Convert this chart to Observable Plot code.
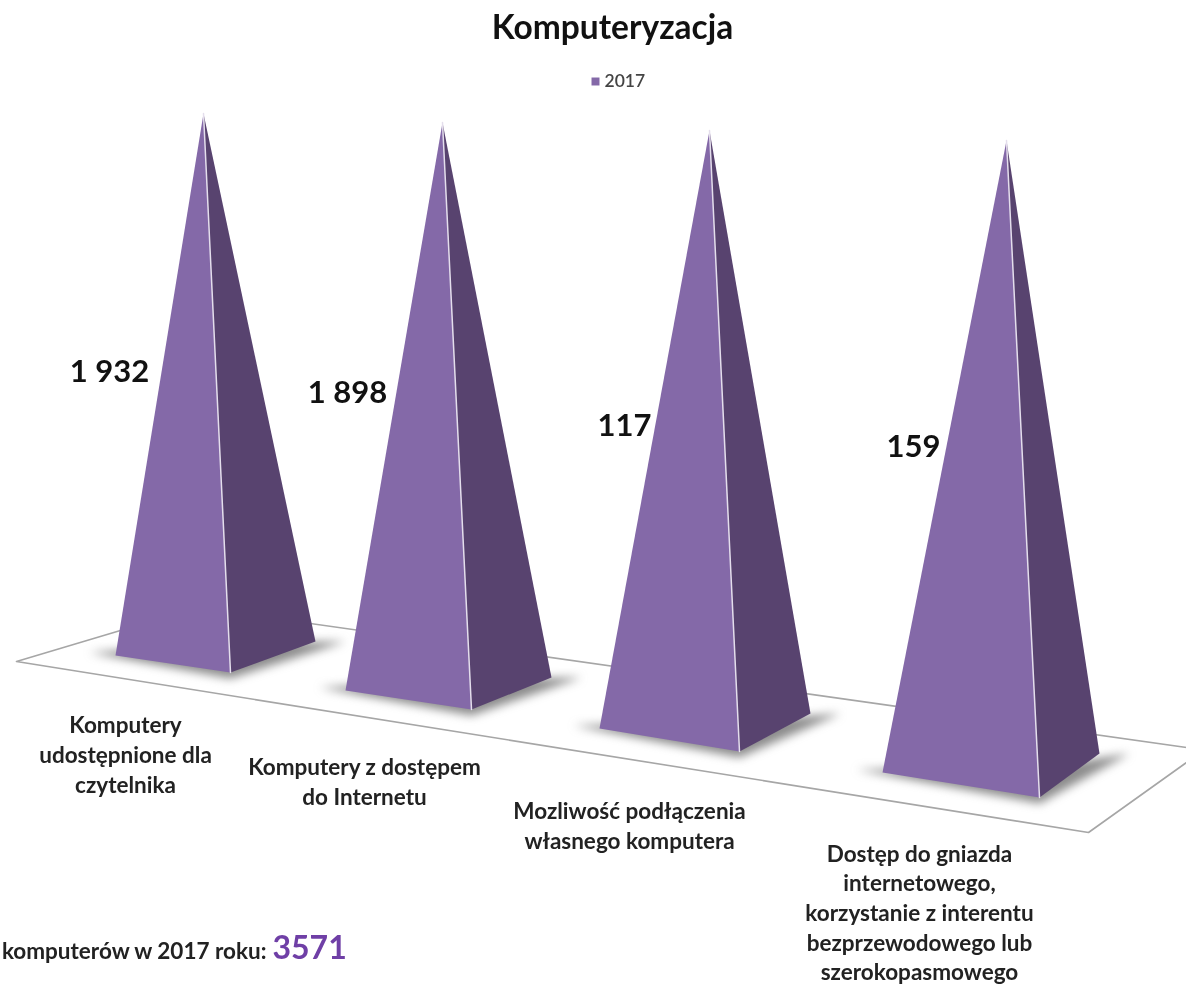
<!DOCTYPE html>
<html><head><meta charset="utf-8">
<script src="https://cdn.jsdelivr.net/npm/d3@7"></script>
<script src="https://cdn.jsdelivr.net/npm/@observablehq/plot@0.6"></script>
<style>html,body{margin:0;padding:0;background:#fff;overflow:hidden}svg{display:block}</style>
</head><body><div id="chart"></div>
<script>
// Values
const categories = ["Komputery\nudostępnione dla\nczytelnika","Komputery z dostępem\ndo Internetu","Mozliwość podłączenia\nwłasnego komputera","Dostęp do gniazda\ninternetowego,\nkorzystanie z interentu\nbezprzewodowego lub\nszerokopasmowego"];
const values = [1932, 1898, 117, 159];
const total = 3571;
const series = "2017";
const title = "Komputeryzacja";
const totalLabel = "komputerów w 2017 roku:";

// Pyramid outline (the source drew all four at about the same height)
const apexX = [203, 442, 709, 1006], apexY = [113, 122, 130, 140];
const leftX = [115, 345, 599, 882], leftY = [655, 690, 728, 772];
const frontX = [230, 471, 739, 1039], frontY = [672, 709, 751, 797];
const rightX = [315, 551, 810, 1099], rightY = [641, 677, 713, 753];
const valueX = [109, 347, 624, 913], valueY = [372, 393, 426, 447];
const labelX = [125, 364, 629, 919], labelY = [753, 780, 824, 911];
const floorX = [1186, 197, 16, 1088, 1186], floorY = [747, 607, 661, 832, 762];

const idx = d3.range(categories.length);
const leftFace = idx.flatMap(i => [{p:i,x:apexX[i],y:apexY[i]},{p:i,x:leftX[i],y:leftY[i]},{p:i,x:frontX[i],y:frontY[i]}]);
const rightFace = idx.flatMap(i => [{p:i,x:apexX[i],y:apexY[i]},{p:i,x:rightX[i],y:rightY[i]},{p:i,x:frontX[i],y:frontY[i]}]);
const shadow = idx.flatMap(i => [
  {p:i,x:leftX[i]-26,y:leftY[i]-3},{p:i,x:frontX[i],y:frontY[i]+6},{p:i,x:rightX[i]+30,y:rightY[i]},{p:i,x:frontX[i],y:frontY[i]-30}]);
const edges = idx.flatMap(i => [{p:i,x:apexX[i],y:apexY[i]},{p:i,x:frontX[i],y:frontY[i]}]);
const floor = floorX.map((x,i) => ({x, y:floorY[i]}));
const fmt = v => d3.format(",")(v).replace(/,/g," ");
const font = "Lato, sans-serif";
const soft = "blur(0.5px)";

const chart = Plot.plot({
  width:1186, height:986, margin:0,
  x:{domain:[0,1186], range:[0,1186], axis:null},
  y:{domain:[0,986], range:[0,986], axis:null},
  style:{background:"#fff", fontFamily:font},
  marks:[
    Plot.line(floor,{x:"x",y:"y",stroke:"#a6a6a6",strokeWidth:1.6,fill:"#fff",imageFilter:soft}),
    Plot.line(shadow,{x:"x",y:"y",z:"p",fill:"#666",stroke:"none",fillOpacity:0.75,imageFilter:"blur(5px)"}),
    Plot.line(leftFace,{x:"x",y:"y",z:"p",fill:"#8469a8",stroke:"none"}),
    Plot.line(rightFace,{x:"x",y:"y",z:"p",fill:"#58436f",stroke:"none"}),
    Plot.line(edges,{x:"x",y:"y",z:"p",stroke:"#e4deec",strokeWidth:1.5,imageFilter:soft}),
    Plot.text(idx,{x:i=>valueX[i],y:i=>valueY[i],text:i=>fmt(values[i]),fontSize:31,fontWeight:700,fill:"#111",imageFilter:soft}),
    Plot.text(idx,{x:i=>labelX[i],y:i=>labelY[i],text:i=>categories[i],fontSize:22.5,fontWeight:700,fill:"#222",lineHeight:1.32,imageFilter:soft}),
    Plot.text([title],{x:()=>612,y:()=>28,text:d=>d,fontSize:33.5,fontWeight:700,fill:"#111",imageFilter:soft}),
    Plot.dot([series],{x:()=>595,y:()=>81,symbol:"square",r:4.5,fill:"#8469a8",stroke:"none"}),
    Plot.text([series],{x:()=>604,y:()=>81,text:d=>d,fontSize:17.5,textAnchor:"start",fill:"#444",fontWeight:600,imageFilter:soft}),
    Plot.text([totalLabel],{x:()=>266,y:()=>951,text:d=>d,fontSize:22.5,fontWeight:700,textAnchor:"end",fill:"#222",imageFilter:soft}),
    Plot.text([total],{x:()=>272,y:()=>948,text:d=>String(d),fontSize:32,fontWeight:700,textAnchor:"start",fill:"#6f3fa6",imageFilter:soft})
  ]
});
document.getElementById("chart").append(chart);
</script></body></html>
